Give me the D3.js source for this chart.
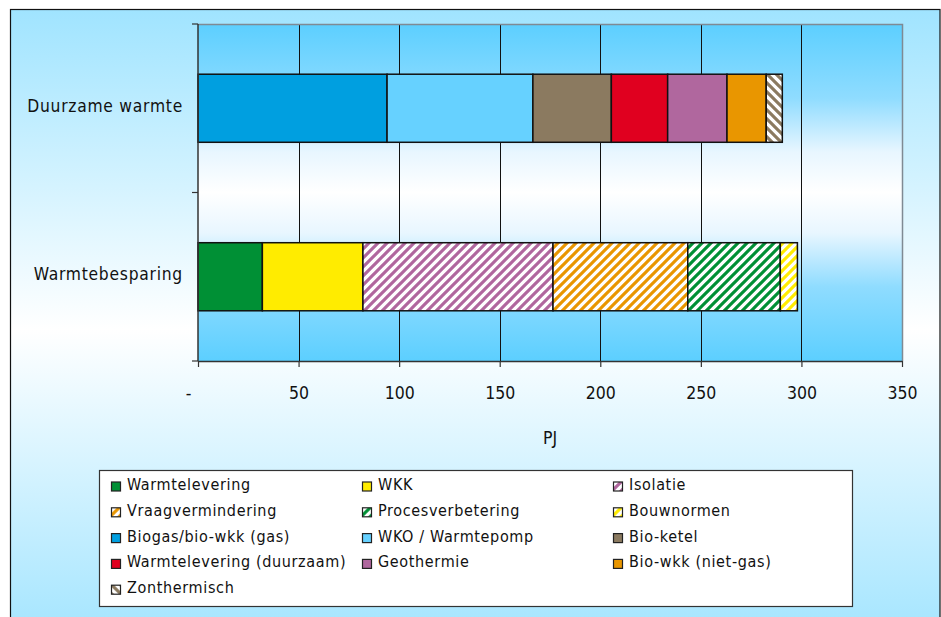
<!DOCTYPE html>
<html>
<head>
<meta charset="utf-8">
<script src="https://cdn.jsdelivr.net/npm/d3@7"></script>
<style>
  html, body { margin: 0; padding: 0; background: #ffffff; }
  svg { display: block; }
  text { font-family: "DejaVu Sans", Verdana, sans-serif; font-stretch: condensed; fill: #111; }
</style>
</head>
<body>
<svg id="chart" width="941" height="617"></svg>
<script>
// Categories (top to bottom)
const categories = ["Duurzame warmte", "Warmtebesparing"];

// Series, in legend order
const seriesNames = [
  "Warmtelevering", "WKK", "Isolatie",
  "Vraagvermindering", "Procesverbetering", "Bouwnormen",
  "Biogas/bio-wkk (gas)", "WKO / Warmtepomp", "Bio-ketel",
  "Warmtelevering (duurzaam)", "Geothermie", "Bio-wkk (niet-gas)",
  "Zonthermisch"
];

// Values in PJ per series
const duurzameWarmte  = [0, 0, 0, 0, 0, 0, 94, 72.5, 39, 28, 29.5, 19.5, 8];
const warmtebesparing = [32, 50, 94.5, 67, 46, 8.5, 0, 0, 0, 0, 0, 0, 0];

// Axis ticks
const xTicks = [0, 50, 100, 150, 200, 250, 300, 350];
const xTitle = "PJ";

// Fill styles: solid colour or hatched colour
const seriesColors = [
  "#009035", "#ffec00", "#b0679e",
  "#e99600", "#009035", "#ffec00",
  "#009fe0", "#66d1ff", "#8b7a60",
  "#e0001f", "#b0679e", "#e99600",
  "#8b7a60"
];
const seriesHatch = [
  null, null, "up",
  "up", "up", "up",
  null, null, null,
  null, null, null,
  "down"
];

const svg = d3.select("#chart");
const defs = svg.append("defs");

// Outer frame gradient
const gOuter = defs.append("linearGradient").attr("id", "outerGrad")
  .attr("x1", 0).attr("y1", 0).attr("x2", 0).attr("y2", 1);
gOuter.append("stop").attr("offset", 0).attr("stop-color", "#a0e4ff");
gOuter.append("stop").attr("offset", 0.5).attr("stop-color", "#ffffff");
gOuter.append("stop").attr("offset", 1).attr("stop-color", "#a0e4ff");

// Plot area gradient
const gPlot = defs.append("linearGradient").attr("id", "plotGrad")
  .attr("x1", 0).attr("y1", 0).attr("x2", 0).attr("y2", 1);
[[0, "#5ccfff"], [0.22, "#8fdcff"], [0.38, "#e8f6ff"], [0.5, "#ffffff"],
 [0.62, "#e8f6ff"], [0.78, "#8fdcff"], [1, "#5ccfff"]].forEach(([o, c]) =>
  gPlot.append("stop").attr("offset", o).attr("stop-color", c));

// Hatch patterns
const P = 9;
seriesNames.forEach((name, i) => {
  if (!seriesHatch[i]) return;
  const p = defs.append("pattern").attr("id", "hatch" + i)
    .attr("patternUnits", "userSpaceOnUse").attr("width", P).attr("height", P);
  p.append("rect").attr("width", P).attr("height", P).attr("fill", "#ffffff");
  const d = seriesHatch[i] === "up"
    ? `M-2,2 l4,-4 M0,${P} l${P},-${P} M${P - 2},${P + 2} l4,-4`
    : `M-2,${P - 2} l4,4 M0,0 l${P},${P} M${P - 2},-2 l4,4`;
  p.append("path").attr("d", d).attr("stroke", seriesColors[i]).attr("stroke-width", 3.1);
});
const fillOf = i => seriesHatch[i] ? `url(#hatch${i})` : seriesColors[i];

// Outer frame
svg.append("rect").attr("x", 10.5).attr("y", 9.5).attr("width", 929.5).attr("height", 640)
  .attr("fill", "url(#outerGrad)").attr("stroke", "#111").attr("stroke-width", 1.2);

// Plot geometry
const plot = { left: 198, right: 902, top: 24, bottom: 361 };

const x = d3.scaleLinear().domain([0, 350]).range([plot.left, plot.right]);
const y = d3.scaleBand().domain(categories).range([plot.top, plot.bottom])
  .paddingInner(0.596).paddingOuter(0.298);

// Plot area background
svg.append("rect").attr("x", plot.left).attr("y", plot.top)
  .attr("width", plot.right - plot.left).attr("height", plot.bottom - plot.top)
  .attr("fill", "url(#plotGrad)");

// Vertical gridlines
svg.append("g").selectAll("line").data(xTicks.filter(t => t > 0 && t < 350)).join("line")
  .attr("x1", d => Math.round(x(d)) + 0.5).attr("x2", d => Math.round(x(d)) + 0.5)
  .attr("y1", plot.top).attr("y2", plot.bottom)
  .attr("stroke", "#111").attr("stroke-width", 1);

// Plot area border (top and right)
svg.append("path")
  .attr("d", `M${plot.left},${plot.top + 0.5} H${plot.right + 0.5} V${plot.bottom}`)
  .attr("fill", "none").attr("stroke", "#7f8a94").attr("stroke-width", 1.5);

// Stacked bars
const rows = categories.map((c, ci) => {
  const vals = ci === 0 ? duurzameWarmte : warmtebesparing;
  const r = { category: c };
  seriesNames.forEach((s, i) => r[s] = vals[i]);
  return r;
});
const stacked = d3.stack().keys(seriesNames)(rows);

const barG = svg.append("g");
stacked.forEach((layer, i) => {
  barG.selectAll(null).data(layer.filter(d => d[1] - d[0] > 0)).join("rect")
    .attr("x", d => x(d[0]))
    .attr("y", d => y(d.data.category))
    .attr("width", d => x(d[1]) - x(d[0]))
    .attr("height", y.bandwidth())
    .attr("fill", fillOf(i))
    .attr("stroke", "#111").attr("stroke-width", 1.5);
});

// X axis
const xAxis = d3.axisBottom(x).tickValues(xTicks).tickSize(6).tickSizeOuter(0)
  .tickFormat(d => d === 0 ? "-" : d3.format("d")(d));
const xg = svg.append("g").attr("transform", `translate(0,${plot.bottom})`).call(xAxis);
xg.select(".domain").attr("stroke", "#333").attr("stroke-width", 1.5);
xg.selectAll(".tick line").attr("stroke", "#333").attr("stroke-width", 1.2);
xg.selectAll(".tick text")
  .attr("y", 38).attr("dy", null)
  .attr("dx", d => d === 0 ? -10 : 0)
  .style("font-size", "17.5px").style("fill", "#111");

// Y axis: category ticks at band boundaries
const step = y.step();
const bounds = d3.range(categories.length + 1).map(i => plot.top + i * step);
svg.append("line").attr("x1", plot.left).attr("x2", plot.left)
  .attr("y1", plot.top).attr("y2", plot.bottom)
  .attr("stroke", "#333").attr("stroke-width", 1.5);
svg.append("g").selectAll("line").data(bounds).join("line")
  .attr("x1", plot.left - 6).attr("x2", plot.left)
  .attr("y1", d => d).attr("y2", d => d)
  .attr("stroke", "#333").attr("stroke-width", 1.2);
svg.append("g").selectAll("text").data(categories).join("text")
  .attr("x", 183)
  .attr("y", d => y(d) + y.bandwidth() / 2 + 3.5)
  .attr("text-anchor", "end")
  .style("font-size", "17.3px").style("letter-spacing", "0.75px")
  .text(d => d);

// X axis title
svg.append("text").attr("x", (plot.left + plot.right) / 2).attr("y", 443.5)
  .attr("text-anchor", "middle").style("font-size", "17.5px").text(xTitle);

// Legend
const legend = svg.append("g");
legend.append("rect").attr("x", 99.5).attr("y", 470.5).attr("width", 753).attr("height", 136)
  .attr("fill", "#ffffff").attr("stroke", "#333").attr("stroke-width", 1.2);
const cols = 3, colW = 251, rowH = 25.8;
const items = legend.selectAll("g.item").data(seriesNames).join("g").attr("class", "item")
  .attr("transform", (d, i) => `translate(${111 + (i % cols) * colW},${490 + Math.floor(i / cols) * rowH})`);
items.append("rect").attr("x", 0.5).attr("y", -8).attr("width", 9).attr("height", 9)
  .attr("fill", (d, i) => fillOf(i)).attr("stroke", "#222").attr("stroke-width", 1.2);
items.append("text").attr("x", 16).attr("y", 0)
  .style("font-size", "16px").style("letter-spacing", "0.65px")
  .text(d => d);
</script>
</body>
</html>
